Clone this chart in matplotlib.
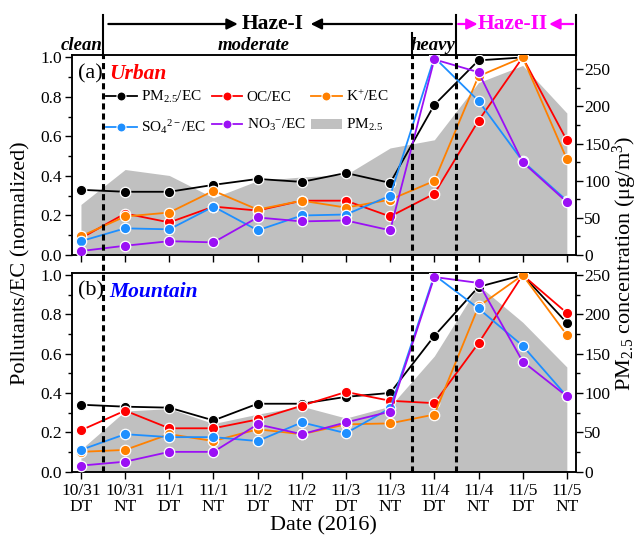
import numpy as np
import matplotlib
matplotlib.use("Agg")
import matplotlib.pyplot as plt
from matplotlib.patches import Patch
from matplotlib.lines import Line2D
from matplotlib.ticker import MultipleLocator
import matplotlib.transforms as mtransforms

plt.rcParams['font.family'] = ['Liberation Serif', 'DejaVu Serif']
plt.rcParams['mathtext.fontset'] = 'custom'
plt.rcParams['mathtext.rm'] = 'Liberation Serif'
plt.rcParams['mathtext.it'] = 'Liberation Serif:italic'
plt.rcParams['mathtext.bf'] = 'Liberation Serif:bold'
plt.rcParams['mathtext.default'] = 'regular'

# ---------------- data ----------------
dates = ['10/31\nDT', '10/31\nNT', '11/1\nDT', '11/1\nNT', '11/2\nDT', '11/2\nNT',
         '11/3\nDT', '11/3\nNT', '11/4\nDT', '11/4\nNT', '11/5\nDT', '11/5\nNT']

# (a) Urban
pm_ec_u = [0.33, 0.32, 0.32, 0.355, 0.385, 0.37, 0.415, 0.365, 0.76, 0.985, 1.0, np.nan]
oc_ec_u = [0.085, 0.21, 0.165, 0.245, 0.225, 0.275, 0.275, 0.195, 0.31, 0.68, 1.0, 0.58]
k_ec_u = [0.095, 0.195, 0.215, 0.325, 0.23, 0.275, 0.24, 0.28, 0.375, 0.905, 1.0, 0.485]
so4_ec_u = [0.07, 0.135, 0.13, 0.245, 0.125, 0.2, 0.205, 0.30, 1.0, 0.78, 0.475, 0.275]
no3_ec_u = [0.02, 0.047, 0.07, 0.064, 0.19, 0.17, 0.175, 0.125, 0.99, 0.925, 0.47, 0.268]
pm25_u = [68, 115, 107, 77, 100, 105, 108, 144, 155, 232, 255, 191]

# (b) Mountain
pm_ec_m = [0.34, 0.33, 0.325, 0.26, 0.345, 0.345, 0.38, 0.40, 0.69, 0.94, 1.0, 0.757]
oc_ec_m = [0.21, 0.31, 0.22, 0.22, 0.265, 0.335, 0.405, 0.36, 0.348, 0.653, 1.0, 0.807]
k_ec_m = [0.1, 0.11, 0.19, 0.155, 0.215, 0.19, 0.24, 0.245, 0.29, 0.84, 1.0, 0.695]
so4_ec_m = [0.11, 0.19, 0.175, 0.175, 0.155, 0.25, 0.195, 0.322, 1.0, 0.83, 0.64, 0.383]
no3_ec_m = [0.03, 0.05, 0.10, 0.10, 0.24, 0.19, 0.25, 0.305, 0.99, 0.96, 0.56, 0.383]
pm25_m = [28, 77, 80, 61, 73, 83, 68, 83, 147, 237, 190, 133]

labels = ['PM$_{2.5}$/EC', 'OC/EC', 'K$^{+}$/EC', 'SO$_4$$^{2-}$/EC', 'NO$_3$$^{-}$/EC']
colors = ['#000000', '#FF0000', '#FF8000', '#1E8FFF', '#9B10F5']

x = np.arange(len(dates))

fig = plt.figure(figsize=(6.4, 5.38), dpi=100)
L, W = 0.112, 0.7875
ax1 = fig.add_axes([L, 0.526, W, 0.3717])
ax2 = fig.add_axes([L, 0.1236, W, 0.3695])

panels = [
    (ax1, [pm_ec_u, oc_ec_u, k_ec_u, so4_ec_u, no3_ec_u], pm25_u, 269, '(a)', 'Urban', '#FF0000'),
    (ax2, [pm_ec_m, oc_ec_m, k_ec_m, so4_ec_m, no3_ec_m], pm25_m, 253, '(b)', 'Mountain', '#0000FF'),
]

tfs = 12.5
for ax, series, pm, rtop, tag, site, scol in panels:
    axr = ax.twinx()
    axr.fill_between(x, 0, pm, color='#C0C0C0', lw=0, zorder=1)
    axr.set_ylim(0, rtop)
    axr.yaxis.set_major_locator(MultipleLocator(50))
    axr.yaxis.set_minor_locator(MultipleLocator(25))
    axr.tick_params(axis='y', which='major', direction='out', length=5, width=1, labelsize=tfs, pad=1)
    axr.tick_params(axis='y', which='minor', direction='out', length=3, width=1)
    ax.set_zorder(axr.get_zorder() + 1)
    ax.patch.set_visible(False)
    for s, c in zip(series, colors):
        ax.plot(x, s, '-', color=c, lw=1.3, marker='o', ms=7.5, mfc=c, mec='white', mew=0.9, zorder=3)
    ax.set_xlim(-0.21, 11.2)
    ax.set_ylim(0, 1.012)
    ax.yaxis.set_major_locator(MultipleLocator(0.2))
    ax.yaxis.set_minor_locator(MultipleLocator(0.1))
    ax.yaxis.set_major_formatter(matplotlib.ticker.FormatStrFormatter('%.1f'))
    ax.tick_params(axis='y', which='major', direction='out', length=5, width=1, labelsize=tfs, pad=2)
    ax.tick_params(axis='y', which='minor', direction='out', length=3, width=1)
    ax.set_xticks(x)
    ax.tick_params(axis='x', direction='out', length=5, width=1, labelsize=tfs, pad=3)
    for a in (ax, axr):
        for sp in a.spines.values():
            sp.set_linewidth(1.1)
    ax.text(0.012, 0.955, tag, transform=ax.transAxes, fontsize=16, va='top', ha='left')
    ax.text(0.075, 0.955, site, transform=ax.transAxes, fontsize=15.5, va='top', ha='left',
            color=scol, fontweight='bold', fontstyle='italic')

ax1.set_xticklabels([])
ax2.set_xticklabels(dates, linespacing=1.0)
ax2.set_xlabel('Date (2016)', fontsize=16, labelpad=1)

# legend
handles = [Line2D([], [], color=c, lw=1.3, marker='o', ms=6.5, mfc=c, mec='white', mew=0.8) for c in colors]
handles.append(Patch(facecolor='#C0C0C0', edgecolor='none'))
lab = labels + ['PM$_{2.5}$']
order = [0, 3, 1, 4, 2, 5]
ax1.legend([handles[i] for i in order], [lab[i] for i in order], ncol=3, loc='upper left',
           bbox_to_anchor=(0.068, 0.83), frameon=False, fontsize=11, handlelength=2.0,
           handletextpad=0.3, columnspacing=0.35, labelspacing=0.85, borderpad=0, borderaxespad=0)

# figure-level labels
fig.text(0.032, 0.511, 'Pollutants/EC (normalized)', rotation=90, fontsize=16, ha='center', va='center')
fig.text(0.977, 0.511, 'PM$_{2.5}$ concentration (μg/m$^3$)', rotation=90, fontsize=16,
         ha='center', va='center')

# dashed separators across both panels
tr = mtransforms.blended_transform_factory(ax1.transData, fig.transFigure)
y_bot = 0.1236
y_top = 0.526 + 0.3717
for xv in (0.5, 7.5, 8.5):
    fig.add_artist(Line2D([xv, xv], [y_bot, y_top], transform=tr, color='black', lw=2.2,
                          linestyle=(0, (2.0, 1.3)), zorder=5))

# header
y_hdr_top = 1 - 15 / 538
y_hdr_short = 1 - 33 / 538
xr = 11.2
for xv, yt in ((0.5, y_hdr_top), (8.5, y_hdr_top), (xr, y_hdr_top), (7.5, y_hdr_short)):
    fig.add_artist(Line2D([xv, xv], [y_top, yt], transform=tr, color='black', lw=1.5))

y_arr = 1 - 24 / 538
fig.text(4.35, y_arr, 'Haze-I', transform=tr, fontsize=15.5, fontweight='bold', ha='center', va='center')
fig.text(9.78, y_arr, 'Haze-II', transform=tr, fontsize=15.5, fontweight='bold', ha='center',
         va='center', color='#FF00FF')
arrows = [((0.62, 3.55), 'black'), ((8.4, 5.2), 'black'), ((8.54, 8.98), '#FF00FF'), ((11.14, 10.6), '#FF00FF')]
for (x0, x1), c in arrows:
    fig.add_artist(matplotlib.patches.FancyArrowPatch((x0, y_arr), (x1, y_arr), transform=tr,
                   arrowstyle='-|>', mutation_scale=16, lw=1.6, color=c, shrinkA=0, shrinkB=0))

y_sub = 1 - 45 / 538
for xv, t in ((0.02, 'clean'), (3.9, 'moderate'), (7.97, 'heavy')):
    fig.text(xv, y_sub, t, transform=tr, fontsize=13.5, fontweight='bold', fontstyle='italic',
             ha='center', va='center')

fig.savefig('out.png', dpi=100)
